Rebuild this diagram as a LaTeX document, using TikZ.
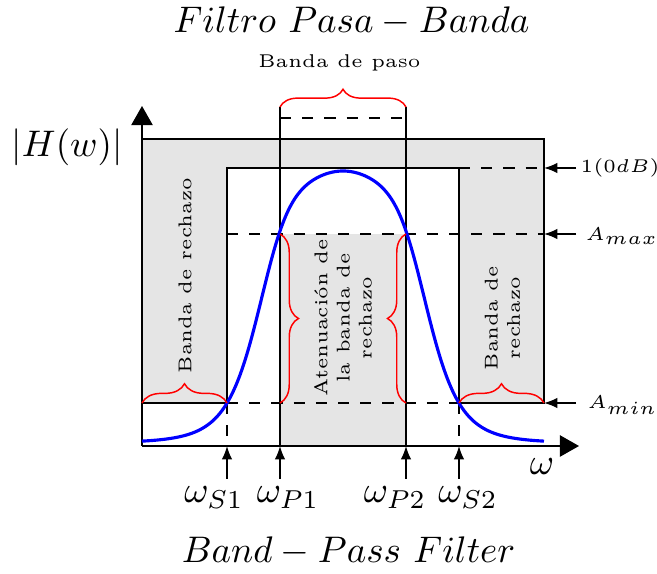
\documentclass[tikz,border=0pt]{standalone}
\usetikzlibrary{arrows.meta,decorations.pathreplacing}
\begin{document}
\begin{tikzpicture}[x=0.27027pt,y=-0.27027pt,
  lw/.style={line width=0.4pt},
  grayfill/.style={fill=black!10},
  dashline/.style={dashed, line width=0.4pt},
  axisline/.style={line width=0.4pt, -{Triangle[length=5.2pt,width=5.8pt]}},
  tickarrow/.style={line width=0.4pt, -{Latex[length=3.6pt,width=2.8pt]}},
  redbrace/.style={red, line width=0.4pt, decorate, decoration={brace, amplitude=#1}},
  respcurve/.style={blue, line width=0.85pt},
  smalltxt/.style={font=\tiny, inner sep=0pt},
  rottxt/.style={font=\tiny, rotate=90, align=center, inner sep=0pt},
  declare function={resp(\t)=443-272/(1+(abs(\t-343)/164.4)^2+(abs(\t-343)/87.8)^6);}
]
\useasboundingbox (0,0) rectangle (657,574);

% gray regions
\fill[grayfill] (142,139) -- (544,139) -- (544,403) -- (459,403) -- (459,168)
  -- (227,168) -- (227,403) -- (142,403) -- cycle;
\fill[grayfill] (280,234) rectangle (406,446);

% key coordinates
\coordinate (O) at (142,446);
\coordinate (Ytip) at (142,106);
\coordinate (Xtip) at (579,446);
\coordinate (P1top) at (280,107);
\coordinate (P2top) at (406,107);
\coordinate (P1bot) at (280,446);
\coordinate (P2bot) at (406,446);
\coordinate (S1a) at (227,403);
\coordinate (S1b) at (227,446);
\coordinate (S2a) at (459,403);
\coordinate (S2b) at (459,446);
\coordinate (Amax1) at (280,234);
\coordinate (Amax2) at (406,234);
\coordinate (AmaxL) at (227,234);
\coordinate (AmaxR) at (544,234);
\coordinate (AminR) at (544,403);
\coordinate (OdbL) at (459,168);
\coordinate (OdbR) at (544,168);
\coordinate (LbL) at (142,403);
\coordinate (DtL) at (280,118);
\coordinate (DtR) at (406,118);

% dashed lines
\draw[dashline] (DtL) -- (DtR);
\draw[dashline] (OdbL) -- (OdbR);
\draw[dashline] (AmaxL) -- (AmaxR);
\draw[dashline] (S1a) -- (AminR);
\draw[dashline] (S1a) -- (S1b);
\draw[dashline] (S2a) -- (S2b);

% pass band verticals
\draw[lw] (P1top) -- (P1bot);
\draw[lw] (P2top) -- (P2bot);

% outline of stop bands
\draw[lw] (142,139) -- (544,139) -- (544,403) -- (459,403) -- (459,168)
  -- (227,168) -- (227,403) -- (142,403);

% axes
\draw[axisline] (O) -- (Ytip);
\draw[axisline] (O) -- (Xtip);

% response curve
\draw[respcurve] plot[domain=142:544, samples=161, smooth]
  (\x, {resp(\x)});

% braces
\draw[redbrace=4.8pt] (P1top) -- (P2top);
\draw[redbrace=5.2pt] (LbL) -- (S1a);
\draw[redbrace=5.2pt] (S2a) -- (AminR);
\draw[redbrace=5pt] (Amax1) -- (280,403);
\draw[redbrace=5pt] (406,403) -- (Amax2);

% right arrows
\coordinate (r1) at (576,168);
\coordinate (r2) at (576,234);
\coordinate (r3) at (576,403);
\draw[tickarrow] (r1) -- (OdbR);
\draw[tickarrow] (r2) -- (AmaxR);
\draw[tickarrow] (r3) -- (AminR);
\node[smalltxt, anchor=west] (l1) at (580,168) {$1(0dB)$};
\node[smalltxt, anchor=west] (l2) at (585,236) {$A_{max}$};
\node[smalltxt, anchor=west] (l3) at (587,405) {$A_{min}$};

% bottom arrows
\coordinate (b1) at (227,479);
\coordinate (b2) at (280,479);
\coordinate (b3) at (406,479);
\coordinate (b4) at (459,479);
\draw[tickarrow] (b1) -- (S1b);
\draw[tickarrow] (b2) -- (P1bot);
\draw[tickarrow] (b3) -- (P2bot);
\draw[tickarrow] (b4) -- (S2b);
\node[anchor=base, inner sep=0pt] (wS1) at (214,503) {$\omega_{S1}$};
\node[anchor=base, inner sep=0pt] (wP1) at (288,503) {$\omega_{P1}$};
\node[anchor=base, inner sep=0pt] (wP2) at (395,503) {$\omega_{P2}$};
\node[anchor=base, inner sep=0pt] (wS2) at (468,503) {$\omega_{S2}$};

% axis labels
\node[anchor=base, inner sep=0pt] (wax) at (542,475) {$\omega$};
\node[anchor=base, inner sep=0pt] (Hw) at (67,157) {$|H(w)|$};

% titles
\node[anchor=base, inner sep=0pt] (title) at (351.5,33) {$Filtro\ Pasa-Banda$};
\node[anchor=base, inner sep=0pt] (subtitle) at (348.5,562) {$Band-Pass\ Filter$};
\node[smalltxt, anchor=base] (bp) at (339.5,68) {Banda de paso};

% rotated labels
\node[rottxt] (br1) at (185,275.5) {Banda de rechazo};
\node[rottxt] (at) at (343,318) {Atenuación de\\la banda de\\rechazo};
\node[rottxt] (br2) at (502.5,318) {Banda de\\rechazo};
\end{tikzpicture}
\end{document}
